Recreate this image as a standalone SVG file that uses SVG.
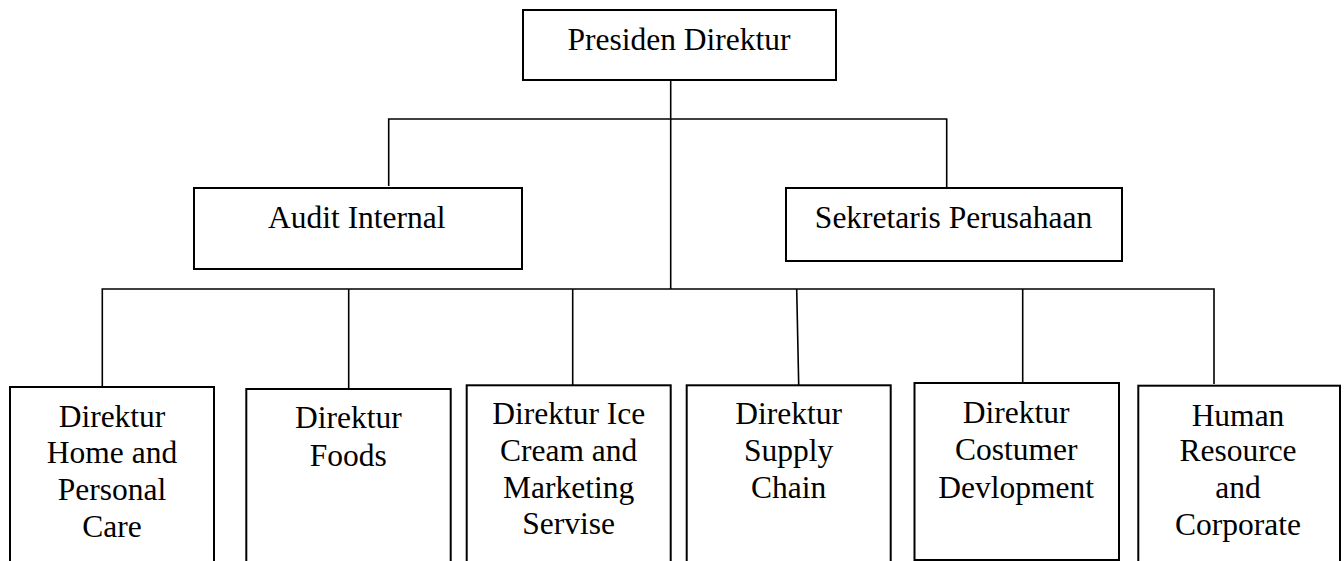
<svg xmlns="http://www.w3.org/2000/svg" width="1344" height="561" viewBox="0 0 1344 561">
<style>
.box{fill:#fff;stroke:#000;stroke-width:2}
.ln{fill:none;stroke:#000;stroke-width:1.6}
text{font-family:"Liberation Serif","Times New Roman",serif;font-size:31.5px;fill:#000}
.c{text-anchor:middle}
</style>
<rect width="1344" height="561" fill="#fff"/>
<g id="connectors">
<path class="ln" d="M670.7 80 V289"/>
<path class="ln" d="M388.7 186 V119 H946.7 V187"/>
<path class="ln" d="M102.3 386 V289 H1214 V384"/>
<path class="ln" d="M348.7 289 V388"/>
<path class="ln" d="M572.7 289 V385"/>
<path class="ln" d="M796.7 289 L798.7 385"/>
<path class="ln" d="M1022.7 289 V383"/>
</g>
<g id="presiden">
<rect class="box" x="523" y="10" width="313" height="70"/>
<text class="c" x="679" y="50">Presiden Direktur</text>
</g>
<g id="audit">
<rect class="box" x="194" y="188" width="328" height="81"/>
<text x="268" y="228">Audit Internal</text>
</g>
<g id="sekretaris">
<rect class="box" x="786" y="188" width="336" height="73"/>
<text class="c" x="953.5" y="228">Sekretaris Perusahaan</text>
</g>
<g id="home">
<rect class="box" x="10" y="387" width="204" height="180"/>
<text class="c" x="112" y="426.7">Direktur</text>
<text class="c" x="112" y="463.3">Home and</text>
<text class="c" x="112" y="500">Personal</text>
<text class="c" x="112" y="536.7">Care</text>
</g>
<g id="foods">
<rect class="box" x="246.3" y="389" width="204.4" height="180"/>
<text class="c" x="348.3" y="428.3">Direktur</text>
<text class="c" x="348.3" y="466">Foods</text>
</g>
<g id="icecream">
<rect class="box" x="466.7" y="385.3" width="204" height="180"/>
<text class="c" x="568.7" y="424">Direktur Ice</text>
<text class="c" x="568.7" y="460.7">Cream and</text>
<text class="c" x="568.7" y="497.7">Marketing</text>
<text class="c" x="568.7" y="534.3">Servise</text>
</g>
<g id="supply">
<rect class="box" x="686.7" y="385.3" width="204" height="180"/>
<text class="c" x="788.7" y="424">Direktur</text>
<text class="c" x="788.7" y="460.7">Supply</text>
<text class="c" x="788.7" y="497.7">Chain</text>
</g>
<g id="costumer">
<rect class="box" x="914.5" y="383" width="204.5" height="177"/>
<text class="c" x="1016.2" y="423.3">Direktur</text>
<text class="c" x="1016.2" y="460">Costumer</text>
<text class="c" x="1016.2" y="497.7">Devlopment</text>
</g>
<g id="hr">
<rect class="box" x="1138.3" y="385.7" width="201.7" height="180"/>
<text class="c" x="1238" y="425.7">Human</text>
<text class="c" x="1238" y="461">Resource</text>
<text class="c" x="1238" y="497.7">and</text>
<text class="c" x="1238" y="535">Corporate</text>
</g>
</svg>
